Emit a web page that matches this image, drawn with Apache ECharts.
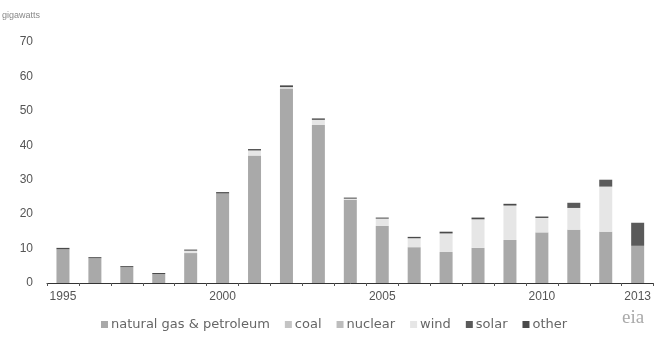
<!DOCTYPE html>
<html><head><meta charset="utf-8">
<script src="https://cdn.jsdelivr.net/npm/echarts@6/dist/echarts.min.js"></script>
<style>html,body{margin:0;padding:0;background:#fff}#c{width:654px;height:337px}</style>
</head><body><div id="c"></div>
<script>
var years = ['1995','1996','1997','1998','1999','2000','2001','2002','2003','2004','2005','2006','2007','2008','2009','2010','2011','2012','2013'];
var labelYears = ['1995','2000','2005','2010','2013'];
var yTicks = [0,10,20,30,40,50,60,70];
var gasPetroleum = [9.8,7.2,4.6,2.6,8.7,26.0,37.0,56.5,46.0,24.2,16.6,10.4,9.0,10.2,12.5,14.7,15.5,14.9,10.8];
var coal        = [0,0,0,0,0,0,0,0,0,0,0,0,0,0,0,0,0,0,0];
var nuclear     = [0,0,0,0,0,0,0,0,0,0,0,0,0,0,0,0,0,0,0];
var wind        = [0,0,0,0,0.7,0,1.5,0.4,1.4,0.3,2.1,2.6,5.4,8.3,10.0,4.2,6.3,13.1,0];
var solar       = [0,0,0,0,0,0,0,0,0,0,0,0,0,0,0,0,1.5,2.0,6.7];
var other       = [0.4,0.3,0.3,0.3,0.3,0.4,0.4,0.5,0.4,0.3,0.3,0.4,0.5,0.5,0.5,0.4,0,0,0];

var names = ['natural gas & petroleum','coal','nuclear','wind','solar','other'];
var colors = ['#a9a9a9','#c4c4c4','#bdbdbd','#e6e6e6','#5a5a5a','#4a4a4a'];
var datas = [gasPetroleum, coal, nuclear, wind, solar, other];

var chart = echarts.init(document.getElementById('c'));
chart.setOption({
  animation:false,
  textStyle:{fontFamily:'Liberation Sans, Arial, sans-serif'},
  grid:{left:47,right:0,top:42,bottom:54},
  legend:{
    data:names, left:96, top:313, itemWidth:7, itemHeight:7, itemGap:15,
    icon:'rect',
    textStyle:{fontFamily:'DejaVu Sans, sans-serif',fontSize:13,color:'#666',padding:[0,0,0,-2]}
  },
  xAxis:{
    type:'category', data:years,
    axisLine:{lineStyle:{color:'#333',width:1}},
    axisTick:{show:true,interval:0,length:3,lineStyle:{color:'#555'}},
    axisLabel:{
      interval:function(i,v){return labelYears.indexOf(v)>=0;},
      color:'#555',fontSize:12,margin:8
    }
  },
  yAxis:{
    type:'value', min:yTicks[0], max:yTicks[yTicks.length-1], interval:10,
    axisLine:{show:false}, axisTick:{show:false}, splitLine:{show:false},
    axisLabel:{color:'#555',fontSize:12,margin:14}
  },
  graphic:[
    {type:'text',left:2,top:11,style:{text:'gigawatts',fontSize:9,fill:'#888',fontFamily:'Liberation Sans, Arial, sans-serif'}},
    {type:'text',left:622,top:309,style:{text:'eia',fontSize:19,fill:'#aaa',fontFamily:'Liberation Serif, serif'}}
  ],
  series:names.map(function(n,i){
    return {name:n,type:'bar',stack:'t',barWidth:13,data:datas[i],itemStyle:{color:colors[i]}};
  })
});
</script></body></html>
